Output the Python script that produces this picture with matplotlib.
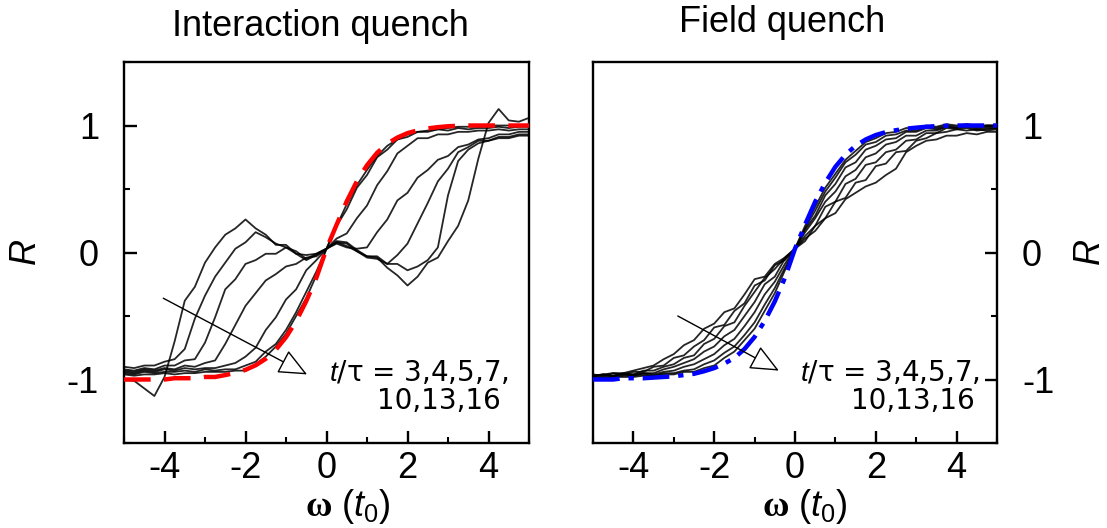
import numpy as np
import matplotlib
matplotlib.use("Agg")
import matplotlib.pyplot as plt
from matplotlib.ticker import MultipleLocator

plt.rcParams['font.family'] = ['Liberation Sans', 'DejaVu Sans']
plt.rcParams['mathtext.fontset'] = 'custom'
plt.rcParams['mathtext.it'] = 'Liberation Sans:italic'
plt.rcParams['mathtext.rm'] = 'Liberation Sans'
plt.rcParams['mathtext.bf'] = 'Liberation Serif:bold'

# frequency grid (t0 units), -5 .. 5 in steps of 0.25
omega = np.linspace(-5, 5, 41)

# equilibrium reference curves
red_R = [-1.00, -1.00, -1.00, -1.00, -1.00, -0.99, -0.99, -0.99, -0.98, -0.98, -0.965,
         -0.948, -0.924, -0.888, -0.837, -0.765, -0.667, -0.541, -0.383, -0.199, 0.03,
         0.219, 0.403, 0.561, 0.687, 0.785, 0.857, 0.905, 0.940, 0.962, 0.977,
         0.987, 0.994, 0.998, 1.0, 1.0, 1.0, 1.0, 1.0, 1.0, 1.0]
blue_R = [-1.00, -1.00, -1.00, -0.99, -0.99, -0.99, -0.985, -0.98, -0.975, -0.965, -0.955,
          -0.935, -0.91, -0.875, -0.83, -0.76, -0.665, -0.54, -0.385, -0.2, 0.03,
          0.22, 0.40, 0.55, 0.675, 0.77, 0.84, 0.89, 0.925, 0.948, 0.963,
          0.975, 0.983, 0.99, 0.995, 0.998, 1.0, 1.0, 1.0, 1.0, 1.0]

t_labels = [3, 4, 5, 7, 10, 13, 16]

# Interaction quench, t/tau = 3,4,5,7,10,13,16
int_R = [
    [-1.00, -1.01, -1.07, -1.13, -0.98, -0.70, -0.38, -0.27, -0.08, 0.04, 0.14,
     0.19, 0.26, 0.19, 0.14, 0.06, 0.06, -0.01, -0.06, -0.02, 0.03,
     0.09, 0.08, 0.02, -0.03, -0.04, -0.12, -0.18, -0.26, -0.19, -0.08,
     -0.04, 0.09, 0.21, 0.41, 0.74, 1.02, 1.13, 1.04, 1.03, 1.06],
    [-0.90, -0.91, -0.89, -0.89, -0.86, -0.84, -0.76, -0.52, -0.34, -0.19, -0.08,
     0.03, 0.08, 0.16, 0.12, 0.07, 0.04, 0.01, -0.05, -0.01, 0.03,
     0.08, 0.07, 0.01, -0.03, -0.03, -0.09, -0.09, -0.14, -0.11, -0.06,
     0.04, 0.45, 0.72, 0.81, 0.86, 0.88, 0.90, 0.90, 0.92, 0.92],
    [-0.92, -0.93, -0.91, -0.92, -0.89, -0.89, -0.85, -0.84, -0.71, -0.51, -0.29,
     -0.21, -0.09, -0.06, -0.01, -0.01, 0.04, -0.01, -0.02, -0.01, 0.03,
     0.08, 0.05, 0.01, -0.04, -0.05, -0.09, -0.02, 0.07, 0.23, 0.39,
     0.56, 0.66, 0.79, 0.83, 0.88, 0.88, 0.91, 0.91, 0.93, 0.93],
    [-0.93, -0.94, -0.92, -0.93, -0.91, -0.92, -0.89, -0.90, -0.87, -0.85, -0.72,
     -0.57, -0.42, -0.32, -0.22, -0.17, -0.11, -0.09, -0.04, -0.03, 0.03,
     0.07, 0.04, 0.03, 0.04, 0.16, 0.26, 0.41, 0.47, 0.59, 0.65,
     0.73, 0.76, 0.83, 0.85, 0.89, 0.90, 0.93, 0.93, 0.95, 0.95],
    [-0.94, -0.95, -0.93, -0.94, -0.92, -0.93, -0.91, -0.92, -0.91, -0.91, -0.89,
     -0.87, -0.82, -0.75, -0.61, -0.51, -0.37, -0.29, -0.14, -0.06, 0.03,
     0.11, 0.15, 0.27, 0.37, 0.53, 0.64, 0.78, 0.84, 0.90, 0.90,
     0.93, 0.93, 0.95, 0.95, 0.96, 0.96, 0.97, 0.96, 0.97, 0.97],
    [-0.95, -0.96, -0.94, -0.95, -0.94, -0.94, -0.93, -0.94, -0.92, -0.93, -0.92,
     -0.92, -0.89, -0.86, -0.78, -0.72, -0.61, -0.47, -0.31, -0.15, 0.03,
     0.21, 0.34, 0.51, 0.61, 0.75, 0.81, 0.89, 0.91, 0.95, 0.95,
     0.97, 0.96, 0.98, 0.97, 0.98, 0.98, 0.99, 0.98, 0.99, 0.99],
    [-0.96, -0.97, -0.96, -0.96, -0.95, -0.96, -0.95, -0.95, -0.94, -0.94, -0.94,
     -0.93, -0.93, -0.88, -0.82, -0.74, -0.64, -0.50, -0.36, -0.18, 0.03,
     0.21, 0.38, 0.53, 0.65, 0.76, 0.84, 0.89, 0.93, 0.95, 0.96,
     0.97, 0.98, 0.99, 0.99, 0.99, 1.00, 1.00, 1.00, 1.00, 1.00],
]

# Field quench, t/tau = 3,4,5,7,10,13,16
fld_R = [
    [-0.97, -0.96, -0.95, -0.95, -0.93, -0.91, -0.89, -0.84, -0.80, -0.73, -0.69,
     -0.60, -0.56, -0.47, -0.44, -0.33, -0.21, -0.19, -0.09, -0.04, 0.03,
     0.11, 0.17, 0.27, 0.31, 0.42, 0.47, 0.52, 0.55, 0.61, 0.66,
     0.79, 0.84, 0.88, 0.89, 0.92, 0.92, 0.94, 0.93, 0.95, 0.95],
    [-0.96, -0.97, -0.95, -0.96, -0.94, -0.94, -0.90, -0.89, -0.83, -0.81, -0.74,
     -0.69, -0.59, -0.57, -0.46, -0.40, -0.26, -0.22, -0.10, -0.06, 0.03,
     0.09, 0.21, 0.27, 0.40, 0.43, 0.55, 0.57, 0.68, 0.70, 0.79,
     0.80, 0.88, 0.90, 0.94, 0.95, 0.97, 0.96, 0.97, 0.96, 0.97],
    [-0.97, -0.96, -0.97, -0.95, -0.96, -0.93, -0.93, -0.90, -0.88, -0.83, -0.81,
     -0.72, -0.68, -0.58, -0.55, -0.42, -0.31, -0.20, -0.13, -0.04, 0.03,
     0.13, 0.21, 0.36, 0.40, 0.54, 0.58, 0.69, 0.71, 0.79, 0.81,
     0.88, 0.89, 0.94, 0.94, 0.98, 0.97, 0.98, 0.96, 0.97, 0.98],
    [-0.98, -0.96, -0.97, -0.96, -0.96, -0.95, -0.95, -0.92, -0.90, -0.87, -0.84,
     -0.78, -0.74, -0.66, -0.61, -0.50, -0.39, -0.25, -0.19, -0.05, 0.03,
     0.16, 0.27, 0.40, 0.48, 0.60, 0.65, 0.75, 0.78, 0.85, 0.87,
     0.92, 0.92, 0.96, 0.96, 0.99, 0.98, 0.99, 0.97, 0.98, 0.98],
    [-0.98, -0.97, -0.97, -0.96, -0.97, -0.95, -0.96, -0.94, -0.93, -0.90, -0.88,
     -0.84, -0.80, -0.73, -0.68, -0.58, -0.47, -0.33, -0.23, -0.09, 0.03,
     0.18, 0.29, 0.45, 0.54, 0.67, 0.71, 0.81, 0.84, 0.89, 0.90,
     0.95, 0.95, 0.98, 0.97, 0.99, 0.98, 1.00, 0.98, 0.99, 0.99],
    [-0.99, -0.98, -0.98, -0.97, -0.97, -0.96, -0.97, -0.95, -0.95, -0.93, -0.92,
     -0.88, -0.85, -0.79, -0.74, -0.65, -0.55, -0.41, -0.28, -0.12, 0.03,
     0.19, 0.33, 0.48, 0.59, 0.71, 0.77, 0.85, 0.87, 0.92, 0.93,
     0.96, 0.96, 0.99, 0.98, 1.00, 0.99, 1.01, 0.99, 1.00, 1.00],
    [-0.99, -0.99, -0.98, -0.98, -0.98, -0.97, -0.97, -0.96, -0.96, -0.94, -0.94,
     -0.91, -0.89, -0.83, -0.78, -0.69, -0.60, -0.46, -0.32, -0.14, 0.03,
     0.21, 0.36, 0.51, 0.62, 0.73, 0.80, 0.87, 0.90, 0.94, 0.95,
     0.98, 0.98, 1.00, 0.99, 1.01, 1.00, 1.01, 1.00, 1.00, 1.00],
]

titles = ["Interaction quench", "Field quench"]
yticks = [-1, 0, 1]
xticks = [-4, -2, 0, 2, 4]

W, H = 1107, 528
fig = plt.figure(figsize=(W/100, H/100), dpi=100)
axL = fig.add_axes([124/W, 1-443/H, 405/W, 381/H])
axR = fig.add_axes([593/W, 1-443/H, 404/W, 381/H])

FS = 26

def style(ax, side):
    ax.set_xlim(-5, 5)
    ax.set_ylim(-1.5, 1.5)
    for s in ax.spines.values():
        s.set_linewidth(1.7)
    ax.set_xticks(xticks)
    ax.set_xticklabels([str(v) for v in xticks])
    ax.xaxis.set_minor_locator(MultipleLocator(1))
    ax.set_yticks(yticks)
    ax.set_yticklabels([str(v) for v in yticks])
    ax.yaxis.set_minor_locator(MultipleLocator(0.5))
    ax.tick_params(axis='x', which='both', direction='in', top=False, bottom=True,
                   labelsize=FS, pad=6)
    ax.tick_params(axis='x', which='major', length=9, width=1.7)
    ax.tick_params(axis='x', which='minor', length=4, width=1.5)
    if side == 'left':
        ax.tick_params(axis='y', which='both', direction='in', left=True, right=False,
                       labelleft=True, labelright=False, labelsize=FS, pad=18)
    else:
        ax.tick_params(axis='y', which='both', direction='in', left=False, right=True,
                       labelleft=False, labelright=True, labelsize=FS, pad=18)
    ax.tick_params(axis='y', which='major', length=9, width=1.7)
    ax.tick_params(axis='y', which='minor', length=4, width=1.5)

style(axL, 'left')
style(axR, 'right')

for curve in int_R:
    axL.plot(omega, curve, color='black', lw=1.3, alpha=0.85, zorder=2)
axL.plot(omega, red_R, color='#ff0000', lw=3.2, dashes=(6, 3), zorder=3)

for curve in fld_R:
    axR.plot(omega, curve, color='black', lw=1.3, alpha=0.85, zorder=2)
axR.plot(omega, blue_R, color='#0000ff', lw=3.2, dashes=(6, 2, 1.2, 2), zorder=3)

arrow = dict(arrowstyle='-|>,head_length=0.9,head_width=0.4', mutation_scale=20,
             facecolor='white', edgecolor='black', lw=1.0, shrinkA=0, shrinkB=0)
axL.annotate('', xy=(-0.48, -0.96), xytext=(-4.03, -0.36), arrowprops=arrow, zorder=4)
axR.annotate('', xy=(-0.40, -0.93), xytext=(-2.90, -0.50), arrowprops=arrow, zorder=4)

line1 = r'$t$/τ = ' + ','.join(str(t) for t in t_labels[:4]) + ','
line2 = ','.join(str(t) for t in t_labels[4:])
afont = dict(fontsize=20, family=['DejaVu Sans'], ha='right', va='center', zorder=5)
axL.text(4.5, -0.95, line1, **afont)
axL.text(4.3, -1.17, line2, **afont)
axR.text(4.58, -0.95, line1, **afont)
axR.text(4.46, -1.17, line2, **afont)

# titles
fig.text(320/W, 1-27/H, titles[0], fontsize=FS, ha='center', va='center')
fig.text(782/W, 1-22/H, titles[1], fontsize=FS, ha='center', va='center')

# axis labels
xlab = r'$\mathbf{\omega}$ ($t_0$)'
fig.text(348/W, 1-507/H, xlab, fontsize=FS, ha='center', va='center')
fig.text(805/W, 1-507/H, xlab, fontsize=FS, ha='center', va='center')
fig.text(27/W, 1-253/H, r'$R$', fontsize=FS, rotation=90, ha='center', va='center')
fig.text(1090/W, 1-253/H, r'$R$', fontsize=FS, rotation=90, ha='center', va='center')

fig.savefig('out.png', dpi=100)
